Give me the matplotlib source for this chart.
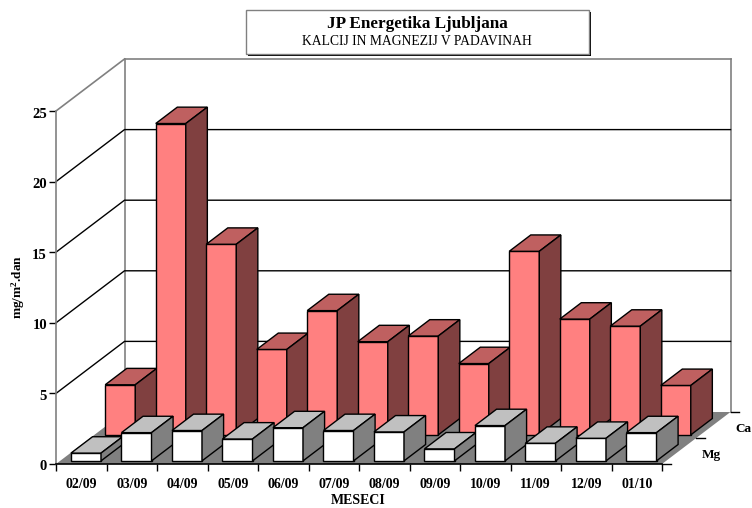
import matplotlib
matplotlib.use("Agg")
import matplotlib.pyplot as plt
from matplotlib.patches import Polygon, Rectangle
from matplotlib.transforms import ScaledTranslation

months = ["02/09", "03/09", "04/09", "05/09", "06/09", "07/09",
          "08/09", "09/09", "10/09", "11/09", "12/09", "01/10"]
ca = [3.55, 22.05, 13.5, 6.05, 8.8, 6.6, 7.0, 5.05, 13.0, 8.2, 7.7, 3.5]
mg = [0.55, 2.0, 2.15, 1.55, 2.35, 2.15, 2.05, 0.85, 2.5, 1.25, 1.6, 2.0]
series_names = ["Mg", "Ca"]
yticks = [0, 5, 10, 15, 20, 25]

W, H = 752, 508
FONT = "Liberation Serif"

# depth direction of the fake 3d box, in axis units per series row
DX = 34.25 / 50.5
DY = 26.0 / 14.12


def pt(x, v, d):
    return (x + d * DX, v + d * DY)


def draw_bar(ax, i, row, val, front, top, side, z):
    x0, x1 = i + 0.215, i + 0.81
    d0, d1 = row + 0.12, row + 0.75
    ax.add_patch(Polygon([pt(x0, 0, d0), pt(x1, 0, d0), pt(x1, val, d0), pt(x0, val, d0)],
                         fc=front, ec="black", lw=1.0, zorder=z, clip_on=False))
    ax.add_patch(Polygon([pt(x0, val, d0), pt(x1, val, d0), pt(x1, val, d1), pt(x0, val, d1)],
                         fc=top, ec="black", lw=1.0, zorder=z, clip_on=False))
    ax.add_patch(Polygon([pt(x1, 0, d0), pt(x1, 0, d1), pt(x1, val, d1), pt(x1, val, d0)],
                         fc=side, ec="black", lw=1.0, zorder=z, clip_on=False))


fig = plt.figure(figsize=(W / 100, H / 100), dpi=100)
ax = fig.add_axes([56 / W, 1 - 464 / H, 606 / W, 353 / H])
ax.set_xlim(0, 12)
ax.set_ylim(0, 25)
ax.patch.set_alpha(0)

# walls and floor
ax.add_patch(Polygon([pt(0, 0, 0), pt(12, 0, 0), pt(12, 0, 2), pt(0, 0, 2)],
                     fc="#808080", ec="none", zorder=1, clip_on=False))
wall = dict(color="#808080", lw=1.2, zorder=2, clip_on=False)
for a, b in [(pt(0, 25, 0), pt(0, 25, 2)), (pt(0, 25, 2), pt(12, 25, 2)),
             (pt(0, 0, 2), pt(0, 25, 2)), (pt(12, 0, 2), pt(12, 25, 2))]:
    ax.plot([a[0], b[0]], [a[1], b[1]], **wall)
for v in yticks[1:-1]:
    a, b, c = pt(0, v, 0), pt(0, v, 2), pt(12, v, 2)
    ax.plot([a[0], b[0], c[0]], [a[1], b[1], c[1]], color="black", lw=1.0, zorder=2, clip_on=False)

for i, val in enumerate(ca):
    draw_bar(ax, i, 1, val, "#FF8080", "#BF6060", "#804040", 3 + i * 0.01)
for i, val in enumerate(mg):
    draw_bar(ax, i, 0, val, "#FFFFFF", "#C0C0C0", "#808080", 4 + i * 0.01)

# depth axis on the right of the floor
for d in range(3):
    a = pt(12, 0, d)
    ax.plot([a[0], a[0] + 0.17], [a[1], a[1]], color="black", lw=1.0, zorder=5, clip_on=False)
for d, name in enumerate(series_names):
    a = pt(12, 0, d + 0.5)
    ax.text(a[0] + 0.44, a[1] - 0.25, name, family=FONT, weight="bold", fontsize=9.5,
            ha="left", va="center", clip_on=False)

for s in ["top", "right"]:
    ax.spines[s].set_visible(False)
ax.spines["left"].set_color("#808080")
ax.spines["left"].set_linewidth(1.2)
ax.spines["bottom"].set_color("black")
ax.spines["bottom"].set_linewidth(1.2)
ax.spines["bottom"].set_zorder(6)

ax.set_yticks(yticks)
ax.set_yticklabels([str(v) for v in yticks], family=FONT, weight="bold", fontsize=10.5)
ax.tick_params(axis="y", length=5, width=1.0, pad=1.5)
# the reference sits its y labels a little under the ticks
shift = ScaledTranslation(0, -1.5 / 100, fig.dpi_scale_trans)
for lab in ax.get_yticklabels():
    lab.set_transform(lab.get_transform() + shift)
ax.set_xticks(range(13))
ax.set_xticklabels([])
ax.tick_params(axis="x", which="major", length=5, width=1.0)
ax.set_xticks([i + 0.5 for i in range(12)], minor=True)
ax.set_xticklabels(months, minor=True, family=FONT, weight="bold", fontsize=10)
ax.tick_params(axis="x", which="minor", length=0, pad=10)

fig.text(358 / W, 1 - 501 / H, "MESECI", family=FONT, weight="bold", fontsize=10,
         ha="center", va="center")
fig.text(18 / W, 1 - 287 / H, "mg/m$\\mathregular{^2}$.dan", family=FONT, weight="bold", fontsize=9.5,
         rotation=90, ha="center", va="center", math_fontfamily="custom")

# title box with its shadow
fig.patches.append(Rectangle((248 / W, 1 - 56 / H), 343 / W, 44 / H, transform=fig.transFigure,
                             fc="black", ec="none", figure=fig))
fig.patches.append(Rectangle((245.5 / W, 1 - 54 / H), 343.5 / W, 44 / H, transform=fig.transFigure,
                             fc="white", ec="#808080", lw=1.0, figure=fig))
fig.text(417 / W, 1 - 24 / H, "JP Energetika Ljubljana", family=FONT, weight="bold", fontsize=12.3,
         ha="center", va="center")
fig.text(417 / W, 1 - 41.5 / H, "KALCIJ IN MAGNEZIJ V PADAVINAH", family=FONT, fontsize=9.8,
         ha="center", va="center")

plt.savefig("out.png", dpi=100)
